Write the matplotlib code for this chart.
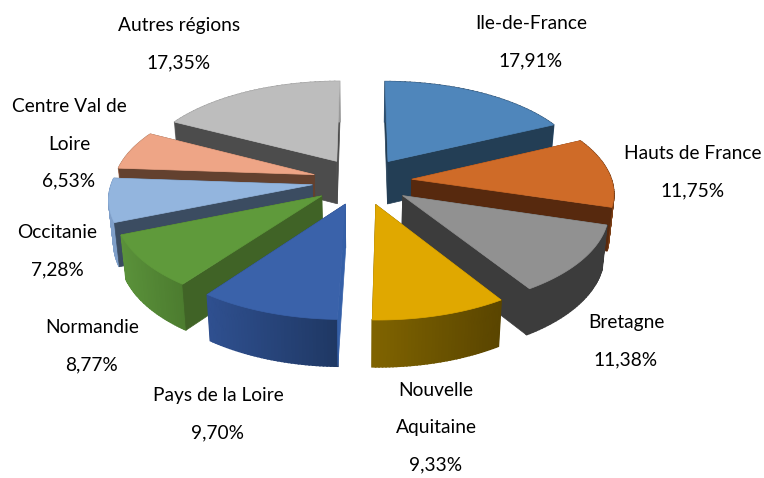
import numpy as np
import matplotlib
matplotlib.use("Agg")
import matplotlib.pyplot as plt
from matplotlib.patches import Polygon

regions = ["Ile-de-France", "Hauts de France", "Bretagne", "Nouvelle\nAquitaine",
           "Pays de la Loire", "Normandie", "Occitanie", "Centre Val de\nLoire", "Autres régions"]
shares = [17.91, 11.75, 11.38, 9.33, 9.70, 8.77, 7.28, 6.53, 17.35]

top_colors = ["#4F86BB", "#CF6B28", "#919191", "#E0A800", "#3A62AA", "#5F9A3B", "#93B5DE", "#EEA586", "#BDBDBD"]
cut_colors = ["#233E55", "#57290E", "#3C3C3C", "#5C4500", "#3560A8", "#406326", "#3B4C61", "#63412F", "#4C4C4C"]
cut_end_colors = ["#233E55", "#57290E", "#3C3C3C", "#5C4500", "#1F3864", "#406326", "#3B4C61", "#63412F", "#4C4C4C"]
wall_left = ["#2F5070", "#7A3E16", "#3C3C3C", "#806400", "#2F5090", "#5A913A", "#7F9FC9", "#C08A70", "#9A9A9A"]
wall_right = ["#2F5070", "#7A3E16", "#3C3C3C", "#5A4500", "#1F3864", "#4C7C2F", "#7F9FC9", "#C08A70", "#9A9A9A"]
label_xy = [(531, 42), (693, 172), (626, 341), (436, 428), (218, 414), (92, 346), (57, 251), (69, 144), (179, 44)]

CX, CY, RX, RY, PERSP, EXPLODE, DEPTH = 362, 181, 200, 94.5, 0.126, 0.25, 43

fig = plt.figure(figsize=(7.64, 4.78), dpi=100)
ax = fig.add_axes([0, 0, 1, 1])
ax.set_xlim(0, 764)
ax.set_ylim(478, 0)
ax.axis("off")


def project(x, y, low=False):
    w = 1 + PERSP * y
    sx = RX * x / w
    sy = CY - RY * y / w
    if low:
        sx *= 0.98
        sy += DEPTH * w ** -0.5
    return CX + sx, sy


def mix(c1, c2, t):
    a, b = np.array(matplotlib.colors.to_rgb(c1)), np.array(matplotlib.colors.to_rgb(c2))
    return tuple(a + (b - a) * t)


def quad(p0, p1, color, z, lw=0.5):
    """Vertical face between two world points."""
    pts = [project(*p0), project(*p1), project(*p1, low=True), project(*p0, low=True)]
    ax.add_patch(Polygon(pts, closed=True, fc=color, ec=color, lw=lw, zorder=z))


bounds = np.cumsum([0] + shares) / sum(shares) * 2 * np.pi
mids = (bounds[:-1] + bounds[1:]) / 2
order = np.argsort(-np.cos(mids))

for rank, i in enumerate(order):
    a, b, m = bounds[i], bounds[i + 1], mids[i]
    ex, ey = EXPLODE * np.sin(m), EXPLODE * np.cos(m)
    th = np.linspace(a, b, 40)
    arc = np.column_stack([ex + np.sin(th), ey + np.cos(th)])
    tip = (ex, ey)
    z = 10 + rank * 5
    start_front = np.sin(a) < 0
    end_front = np.sin(b) > 0
    if not start_front:
        quad(tip, arc[0], cut_colors[i], z)
    if not end_front:
        quad(tip, arc[-1], cut_end_colors[i], z)
    xs = np.array([project(*p)[0] for p in arc])
    for k in range(len(arc) - 1):
        t = (xs[k] - xs.min()) / (xs.max() - xs.min())
        quad(arc[k], arc[k + 1], mix(wall_left[i], wall_right[i], t), z + 1, lw=1.2)
    if start_front:
        quad(tip, arc[0], cut_colors[i], z + 2)
    if end_front:
        quad(tip, arc[-1], cut_end_colors[i], z + 2)
    top = [project(*tip)] + [project(*p) for p in arc]
    ax.add_patch(Polygon(top, closed=True, fc=top_colors[i], ec=top_colors[i], lw=0.5, zorder=z + 3))

for name, val, (x, y) in zip(regions, shares, label_xy):
    txt = f"{name}\n{val:.2f}%".replace(".", ",")
    ax.text(x, y, txt, ha="center", va="center", fontsize=13.8, family="Lato",
            color="black", linespacing=2.45, zorder=100)

fig.savefig("out.png", dpi=100)
